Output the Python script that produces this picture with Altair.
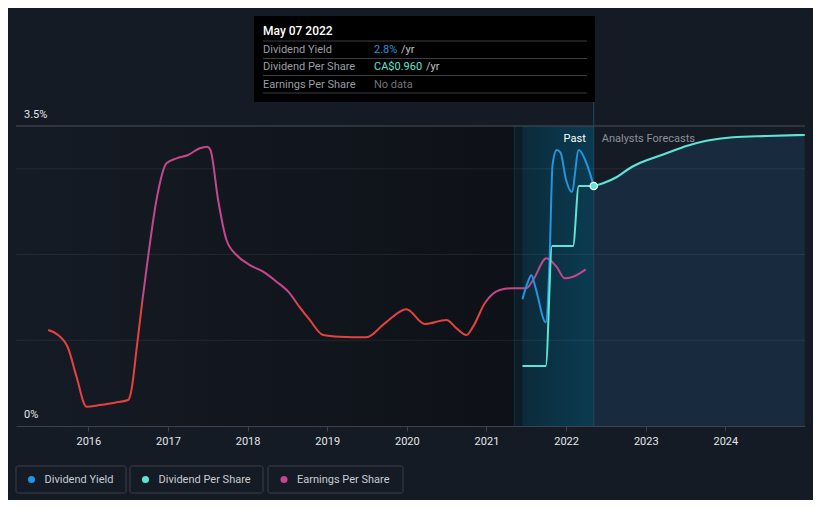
import altair as alt
import pandas as pd

# ---------------- data ----------------
dy_year = [2021.452, 2021.52, 2021.564, 2021.62, 2021.744, 2021.79, 2021.83, 2021.882,
           2021.93, 2022.00, 2022.071, 2022.159, 2022.25, 2022.347]
dy_pct = [1.48, 1.68, 1.76, 1.60, 1.21, 1.86, 3.05, 3.22, 3.19, 2.87, 2.73, 3.22, 3.08, 2.80]

dps_year = [2021.452, 2021.744, 2021.824, 2022.087, 2022.159, 2022.347]
dps_val = [0.24, 0.24, 0.72, 0.72, 0.96, 0.96]

fc_year = [2022.347, 2022.464, 2022.632, 2022.799, 2022.966, 2023.26, 2023.511,
           2023.762, 2024.096, 2024.516, 2024.997]
fc_val = [0.96, 0.971, 0.995, 1.031, 1.057, 1.091, 1.12, 1.141, 1.155, 1.16, 1.164]

eps_year = [2015.495, 2015.62, 2015.746, 2015.852, 2015.977, 2016.144, 2016.333, 2016.50,
            2016.542, 2016.605, 2016.68, 2016.751, 2016.856, 2016.982, 2017.107, 2017.253,
            2017.40, 2017.492, 2017.534, 2017.63, 2017.735, 2017.861, 2018.028, 2018.195,
            2018.363, 2018.53, 2018.656, 2018.781, 2018.948, 2019.158, 2019.493, 2019.723,
            2019.995, 2020.225, 2020.498, 2020.623, 2020.749, 2020.832, 2020.978, 2021.167,
            2021.334, 2021.502, 2021.585, 2021.753, 2021.879, 2021.983, 2022.087, 2022.247]
eps_val = [1.12, 1.062, 0.91, 0.575, 0.225, 0.245, 0.272, 0.303,
           0.42, 0.887, 1.47, 1.975, 2.637, 3.065, 3.123, 3.162,
           3.24, 3.259, 3.22, 2.637, 2.17, 1.995, 1.878, 1.80,
           1.684, 1.548, 1.383, 1.237, 1.062, 1.042, 1.035, 1.198,
           1.362, 1.19, 1.237, 1.14, 1.062, 1.159, 1.432, 1.587,
           1.607, 1.607, 1.703, 1.957, 1.859, 1.723, 1.742, 1.828]
eps_threshold = 1.45

x_ticks = [2016, 2017, 2018, 2019, 2020, 2021, 2022, 2023, 2024]
x_domain = [2015.092, 2025.0]
pct_domain = [0, 3.5]
dps_domain = [0, 1.2]
eps_domain = [0, 3.5]
grid_vals = [1, 2, 3]
top_val = [3.5]
pct_label_vals = [0, 3.5]
pct_label_text = ["0%", "3.5%"]

past_band_start = 2021.35
data_start = 2021.452
now_year = 2022.347

tip_date = "May 07 2022"
tip_labels = ["Dividend Yield", "Dividend Per Share", "Earnings Per Share"]
tip_values = ["2.8%", "CA$0.960", "No data"]
tip_units = ["/yr", "/yr", ""]
legend_names = ["Dividend Yield", "Dividend Per Share", "Earnings Per Share"]

# ---------------- style ----------------
W, H = 789, 300
FONT = "Roboto"
BG = "#151b25"
BLUE = "#2394df"
TEAL = "#5ce5d3"
MAGENTA = "#c2478b"
RED = "#e5423f"

xaxis = alt.Axis(values=x_ticks, format="d", title=None, grid=False,
                 labelColor="#e3e6ea", labelFont=FONT, labelFontSize=11,
                 tickColor="#3d424b", tickSize=5, domainColor="#3d424b",
                 labelPadding=4, labelFlush=False)


def X(field):
    return alt.X(f"{field}:Q", scale=alt.Scale(domain=x_domain, nice=False, zero=False), axis=xaxis)


def Y(field, domain):
    return alt.Y(f"{field}:Q", scale=alt.Scale(domain=domain, nice=False, zero=False), axis=None)


def one():
    return alt.Chart(pd.DataFrame({"a": [0]}))


def hgrad(c1, c2):
    return alt.Gradient(gradient="linear", x1=0, x2=1, y1=0, y2=0,
                        stops=[alt.GradientStop(color=c1, offset=0),
                               alt.GradientStop(color=c2, offset=1)])


layers = []

# background regions
bg_left = pd.DataFrame({"start": [x_domain[0]], "end": [past_band_start]})
layers.append(alt.Chart(bg_left).mark_rect(fill=hgrad("#151b25", "#0e1117")).encode(
    x=X("start"), x2="end", y=alt.value(0), y2=alt.value(H)))

band_outer = pd.DataFrame({"start": [past_band_start], "end": [now_year]})
layers.append(alt.Chart(band_outer).mark_rect(fill="#0b1d26").encode(
    x=X("start"), x2="end", y=alt.value(0), y2=alt.value(H)))

band_inner = pd.DataFrame({"start": [data_start], "end": [now_year]})
layers.append(alt.Chart(band_inner).mark_rect(fill=hgrad("#0b2b3b", "#0b3b51")).encode(
    x=X("start"), x2="end", y=alt.value(0), y2=alt.value(H)))

layers.append(alt.Chart(pd.DataFrame({"x": [past_band_start]})).mark_rule(color="#12323c", strokeWidth=1).encode(
    x=X("x"), y=alt.value(0), y2=alt.value(H)))

# forecast area
fc = pd.DataFrame({"year": fc_year, "dps": fc_val})
layers.append(alt.Chart(fc).mark_area(fill="#1b3a55", opacity=0.5, interpolate="monotone").encode(
    x=X("year"), y=Y("dps", dps_domain)))

# grid lines
layers.append(alt.Chart(pd.DataFrame({"v": grid_vals})).mark_rule(color="white", opacity=0.075, strokeWidth=1).encode(
    y=Y("v", pct_domain), x=alt.value(0), x2=alt.value(W)))
layers.append(alt.Chart(pd.DataFrame({"v": top_val})).mark_rule(color="#4a4e56", strokeWidth=1).encode(
    y=Y("v", pct_domain), x=alt.value(0), x2=alt.value(W)))

# now line
layers.append(alt.Chart(pd.DataFrame({"x": [now_year]})).mark_rule(color="#1d4d5c", strokeWidth=1).encode(
    x=X("x"), y=alt.value(-24), y2=alt.value(H)))

# EPS line with threshold colouring
emax, emin = max(eps_val), min(eps_val)
off = (emax - eps_threshold) / (emax - emin)
eps_grad = alt.Gradient(gradient="linear", x1=0, x2=0, y1=0, y2=1,
                        stops=[alt.GradientStop(color=MAGENTA, offset=0),
                               alt.GradientStop(color=MAGENTA, offset=off),
                               alt.GradientStop(color=RED, offset=off),
                               alt.GradientStop(color=RED, offset=1)])
eps = pd.DataFrame({"year": eps_year, "eps": eps_val})
layers.append(alt.Chart(eps).mark_line(stroke=eps_grad, strokeWidth=2, interpolate="monotone").encode(
    x=X("year"), y=Y("eps", eps_domain)))

# Dividend yield
dy = pd.DataFrame({"year": dy_year, "dy": dy_pct})
layers.append(alt.Chart(dy).mark_line(color=BLUE, strokeWidth=2, interpolate="monotone").encode(
    x=X("year"), y=Y("dy", pct_domain)))

# Dividend per share (past + forecast)
dps = pd.DataFrame({"year": dps_year, "dps": dps_val})
layers.append(alt.Chart(dps).mark_line(color=TEAL, strokeWidth=2, interpolate="monotone").encode(
    x=X("year"), y=Y("dps", dps_domain)))
layers.append(alt.Chart(fc).mark_line(color=TEAL, strokeWidth=2.2, interpolate="monotone").encode(
    x=X("year"), y=Y("dps", dps_domain)))
layers.append(alt.Chart(pd.DataFrame({"year": [now_year], "dps": [dps_val[-1]]})).mark_point(
    filled=True, shape="circle", size=55, color=TEAL, stroke="white", strokeWidth=1.2, opacity=1).encode(
    x=X("year"), y=Y("dps", dps_domain)))

# y labels
layers.append(alt.Chart(pd.DataFrame({"v": pct_label_vals, "t": pct_label_text})).mark_text(
    align="left", baseline="alphabetic", dy=-8, font=FONT, fontSize=11, color="#e3e6ea").encode(
    y=Y("v", pct_domain), x=alt.value(8), text="t:N"))

# Past / Analysts Forecasts labels
nowdf = pd.DataFrame({"x": [now_year], "a": ["Past"], "b": ["Analysts Forecasts"]})
layers.append(alt.Chart(nowdf).mark_text(align="right", baseline="alphabetic", dx=-8, font=FONT,
                                         fontSize=11, color="#ffffff").encode(
    x=X("x"), y=alt.value(16), text="a:N"))
layers.append(alt.Chart(nowdf).mark_text(align="left", baseline="alphabetic", dx=8, font=FONT,
                                         fontSize=11, color="#8b9099").encode(
    x=X("x"), y=alt.value(16), text="b:N"))

# tooltip box
layers.append(one().mark_rect(fill="#000000").encode(
    x=alt.value(238), x2=alt.value(579), y=alt.value(-110), y2=alt.value(-24)))
layers.append(one().mark_text(align="left", baseline="alphabetic", font=FONT, fontSize=12,
                              fontWeight=500, color="#ffffff").encode(
    x=alt.value(247), y=alt.value(-91), text=alt.value(tip_date)))
for sy in [-85, -67.5, -50.5, -33]:
    layers.append(one().mark_rule(color="#3a3d42", strokeWidth=1).encode(
        x=alt.value(247), x2=alt.value(571), y=alt.value(sy)))
row_y = [-73, -56, -38.5]
val_colors = [BLUE, TEAL, "#6f737a"]
unit_x = [385, 410, 0]
for i in range(3):
    layers.append(one().mark_text(align="left", baseline="alphabetic", font=FONT, fontSize=11,
                                  color="#9a9ea5").encode(
        x=alt.value(247), y=alt.value(row_y[i]), text=alt.value(tip_labels[i])))
    layers.append(one().mark_text(align="left", baseline="alphabetic", font=FONT, fontSize=11,
                                  color=val_colors[i]).encode(
        x=alt.value(358), y=alt.value(row_y[i]), text=alt.value(tip_values[i])))
    if tip_units[i]:
        layers.append(one().mark_text(align="left", baseline="alphabetic", font=FONT, fontSize=11,
                                      color="#c0c4c9").encode(
            x=alt.value(unit_x[i]), y=alt.value(row_y[i]), text=alt.value(tip_units[i])))

# legend
box_x = [(0, 110), (114, 247), (252, 387)]
dot_x = [15.5, 129.5, 268]
leg_colors = [BLUE, TEAL, MAGENTA]
for i in range(3):
    layers.append(one().mark_rect(fill=BG, stroke="#3a3f48", strokeWidth=1, cornerRadius=2).encode(
        x=alt.value(box_x[i][0]), x2=alt.value(box_x[i][1]), y=alt.value(340), y2=alt.value(367)))
    layers.append(one().mark_point(filled=True, shape="circle", size=50, color=leg_colors[i], opacity=1).encode(
        x=alt.value(dot_x[i]), y=alt.value(353.5)))
    layers.append(one().mark_text(align="left", baseline="middle", font=FONT, fontSize=11,
                                  color="#c8ccd2").encode(
        x=alt.value(dot_x[i] + 13), y=alt.value(354), text=alt.value(legend_names[i])))

chart = alt.layer(*layers).resolve_scale(y="independent").properties(
    width=W, height=H, background=BG,
    padding={"left": 8, "top": 118, "right": 8, "bottom": 74},
    autosize=alt.AutoSizeParams(type="none"),
).configure_view(stroke=None)

chart.save("out.html", embed_options={"renderer": "svg", "actions": False})
